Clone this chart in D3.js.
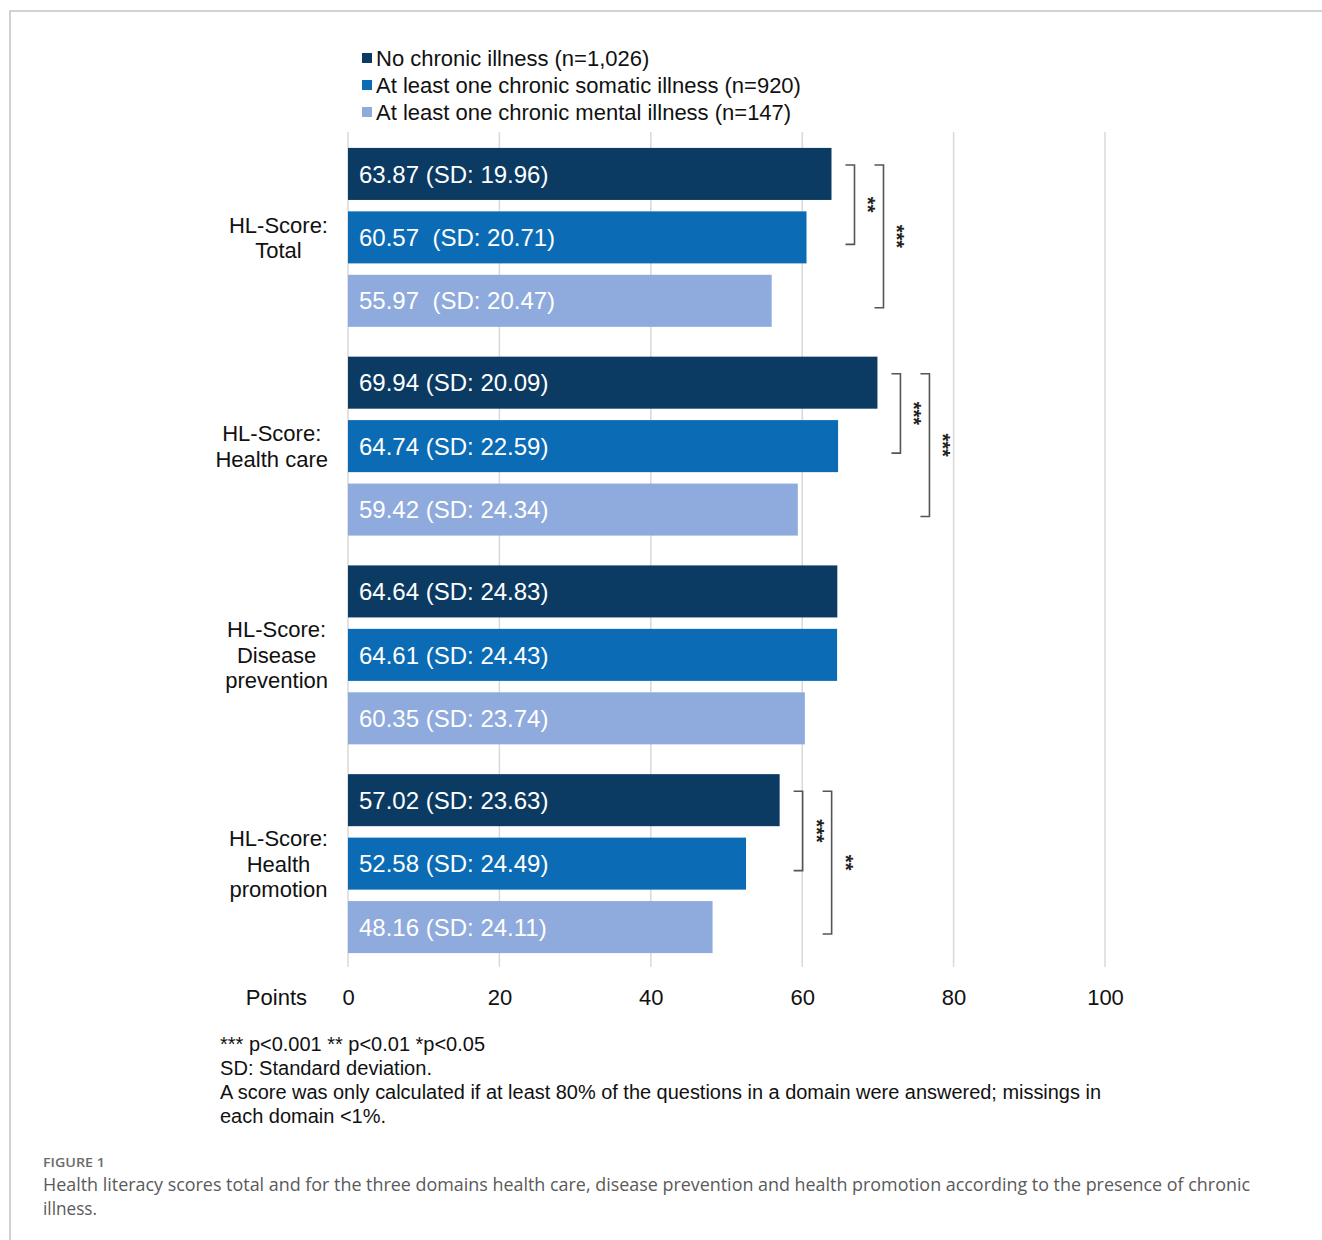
<!DOCTYPE html>
<html>
<head>
<meta charset="utf-8">
<script src="https://cdn.jsdelivr.net/npm/d3@7"></script>
<style>
  html, body { margin: 0; padding: 0; background: #fff; }
  svg { display: block; }
</style>
</head>
<body>
<script>
// ---- data ----
const categories = [
  ["HL-Score:", "Total"],
  ["HL-Score:", "Health care"],
  ["HL-Score:", "Disease", "prevention"],
  ["HL-Score:", "Health", "promotion"]
];
const seriesNames = [
  "No chronic illness (n=1,026)",
  "At least one chronic somatic illness (n=920)",
  "At least one chronic mental illness (n=147)"
];
const noChronic   = [63.87, 69.94, 64.64, 57.02];
const somatic     = [60.57, 64.74, 64.61, 52.58];
const mental      = [55.97, 59.42, 60.35, 48.16];
const sdNoChronic = [19.96, 20.09, 24.83, 23.63];
const sdSomatic   = [20.71, 22.59, 24.43, 24.49];
const sdMental    = [20.47, 24.34, 23.74, 24.11];
const labelGap    = [[" ", "  ", "  "], [" ", " ", " "], [" ", " ", " "], [" ", " ", " "]];
const xTicks = [0, 20, 40, 60, 80, 100];
const significance = [
  { group: 0, from: 0, to: 1, label: "**",  level: 0 },
  { group: 0, from: 0, to: 2, label: "***", level: 1 },
  { group: 1, from: 0, to: 1, label: "***", level: 0 },
  { group: 1, from: 0, to: 2, label: "***", level: 1 },
  { group: 3, from: 0, to: 1, label: "***", level: 0 },
  { group: 3, from: 0, to: 2, label: "**",  level: 1 }
];
const footnotes = [
  "*** p<0.001 ** p<0.01 *p<0.05",
  "SD: Standard deviation.",
  "A score was only calculated if at least 80% of the questions in a domain were answered; missings in",
  "each domain <1%."
];
const figureLabel = "FIGURE 1";
const captionLines = [
  "Health literacy scores total and for the three domains health care, disease prevention and health promotion according to the presence of chronic",
  "illness."
];

const values = [noChronic, somatic, mental];
const sds = [sdNoChronic, sdSomatic, sdMental];
const colors = ["#0b3a63", "#0b6cb5", "#8faadc"];
const SANS = "'Liberation Sans', Arial, sans-serif";
const NARROW = "'Liberation Sans Narrow', 'Arial Narrow', 'Liberation Sans', sans-serif";
const CAP = "'Open Sans', sans-serif";

// ---- layout ----
const W = 1322, H = 1240;
const svg = d3.select("body").append("svg").attr("width", W).attr("height", H)
  .style("font-family", SANS);

// frame
svg.append("path")
  .attr("d", `M10,${H} L10,11 L${W},11`)
  .attr("fill", "none").attr("stroke", "#c4c4c4").attr("stroke-width", 1.5);

const x = d3.scaleLinear().domain([0, 100]).range([348, 1105]);
const y0 = d3.scaleBand().domain(d3.range(categories.length)).range([133, 968]);
const y1 = d3.scaleBand().domain(d3.range(3)).range([0, y0.bandwidth()])
  .paddingInner(0.18).paddingOuter(0.235);

// gridlines
svg.append("g").selectAll("line").data(xTicks).join("line")
  .attr("x1", d => x(d)).attr("x2", d => x(d))
  .attr("y1", 132).attr("y2", 967)
  .attr("stroke", "#d9d9d9").attr("stroke-width", 1.5);

// tick labels via axis
const axisG = svg.append("g").attr("transform", "translate(0,989)")
  .call(d3.axisBottom(x).tickValues(xTicks).tickSize(0).tickPadding(0).tickFormat(d3.format("d")));
axisG.select(".domain").remove();
axisG.selectAll("text")
  .attr("font-size", 22).attr("fill", "#111")
  .style("font-family", SANS)
  .attr("dy", "0.71em").attr("y", 0);
svg.append("text").attr("x", 307).attr("y", 1005).attr("text-anchor", "end")
  .attr("font-size", 22).attr("fill", "#111").text("Points");

// bars
const groups = svg.append("g").selectAll("g").data(categories).join("g")
  .attr("transform", (d, i) => `translate(0,${y0(i)})`);

groups.each(function (cat, gi) {
  const g = d3.select(this);
  for (let s = 0; s < 3; s++) {
    g.append("rect")
      .attr("x", x(0)).attr("y", y1(s))
      .attr("width", x(values[s][gi]) - x(0)).attr("height", y1.bandwidth())
      .attr("fill", colors[s]);
    g.append("text")
      .attr("x", x(0) + 11).attr("y", y1(s) + y1.bandwidth() / 2)
      .attr("dy", "0.36em")
      .attr("font-size", 24).attr("fill", "#fff")
      .style("white-space", "pre")
      .text(values[s][gi].toFixed(2) + labelGap[gi][s] + "(SD: " + sds[s][gi].toFixed(2) + ")");
  }
  // category label
  const lh = 25.5;
  const n = cat.length;
  const cy = y0.bandwidth() / 2;
  const t = g.append("text").attr("font-size", 22).attr("fill", "#111").attr("text-anchor", "middle");
  const tsp = t.selectAll("tspan").data(cat).join("tspan")
    .attr("y", (d, i) => cy + (i - (n - 1) / 2) * lh)
    .attr("dy", "0.36em")
    .text(d => d);
  let maxW = 0;
  tsp.each(function () { maxW = Math.max(maxW, this.getComputedTextLength()); });
  tsp.attr("x", 328 - maxW / 2);
});

// significance brackets
const bg = svg.append("g");
significance.forEach(sg => {
  const top = y0(sg.group) + y1(sg.from) + y1.bandwidth() / 2 - 9;
  const bot = y0(sg.group) + y1(sg.to) + y1.bandwidth() / 2 + 7;
  const maxV = d3.max(d3.range(sg.from, sg.to + 1), s => values[s][sg.group]);
  const bx = x(maxV) + 23 + sg.level * 29;
  bg.append("path")
    .attr("d", `M${bx - 9},${top} L${bx},${top} L${bx},${bot} L${bx - 9},${bot}`)
    .attr("fill", "none").attr("stroke", "#555").attr("stroke-width", 1.6);
  const my = (top + bot) / 2;
  bg.append("text")
    .attr("transform", `translate(${bx + 7},${my}) rotate(90)`)
    .attr("text-anchor", "middle")
    .attr("font-size", 20).attr("font-weight", "bold").attr("fill", "#222")
    .text(sg.label);
});

// legend
const lg = svg.append("g");
seriesNames.forEach((name, i) => {
  const cy = 58 + i * 27;
  lg.append("rect").attr("x", 362).attr("y", cy - 5).attr("width", 10).attr("height", 10).attr("fill", colors[i]);
  lg.append("text").attr("x", 376).attr("y", cy).attr("dy", "0.36em")
    .attr("font-size", 22).attr("fill", "#111").text(name);
});

// footnotes
const fnWidths = [265, 212, 881, 166];
footnotes.forEach((f, i) => {
  svg.append("text").attr("x", 220).attr("y", 1051 + i * 24)
    .style("font-family", NARROW)
    .attr("font-size", 20).attr("fill", "#111")
    .attr("textLength", fnWidths[i]).attr("lengthAdjust", "spacingAndGlyphs")
    .text(f);
});

// caption
svg.append("text").attr("x", 43).attr("y", 1167)
  .style("font-family", CAP).attr("font-size", 13).attr("font-weight", 600)
  .attr("fill", "#6b6b6b").attr("textLength", 62).attr("lengthAdjust", "spacingAndGlyphs")
  .text(figureLabel);
const capW = [1207, 54];
captionLines.forEach((c, i) => {
  svg.append("text").attr("x", 43).attr("y", 1191 + i * 24)
    .style("font-family", CAP).attr("font-size", 18)
    .attr("fill", "#5a5a5a").attr("textLength", capW[i]).attr("lengthAdjust", "spacingAndGlyphs")
    .text(c);
});
</script>
</body>
</html>
